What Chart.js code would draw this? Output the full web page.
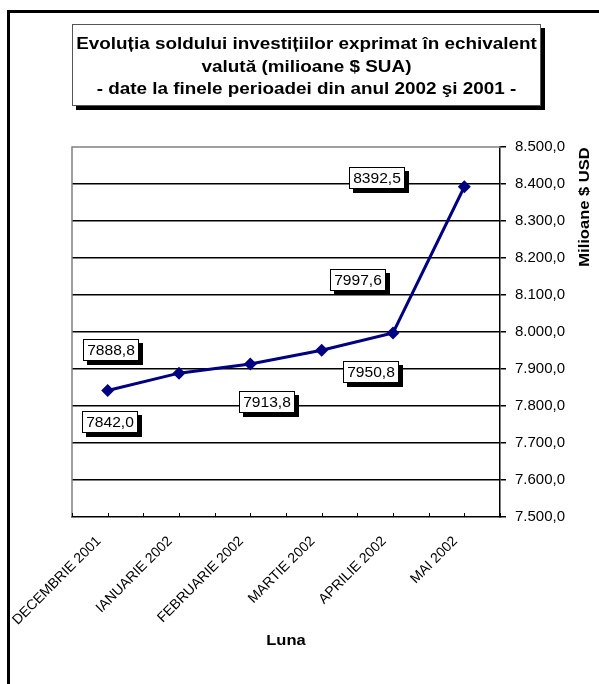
<!DOCTYPE html>
<html><head><meta charset="utf-8">
<script src="https://cdn.jsdelivr.net/npm/chart.js@4/dist/chart.umd.min.js"></script>
<style>html,body{margin:0;padding:0;background:#fff;}</style>
</head><body>
<canvas id="c" width="599" height="684"></canvas>
<script>
const FONT = "'Liberation Sans', Arial, sans-serif";
const categories = ['DECEMBRIE 2001', 'IANUARIE 2002', 'FEBRUARIE 2002', 'MARTIE 2002', 'APRILIE 2002', 'MAI 2002'];
const values = [7842.0, 7888.8, 7913.8, 7950.8, 7997.6, 8392.5];
const yTickValues = [7500, 7600, 7700, 7800, 7900, 8000, 8100, 8200, 8300, 8400, 8500];
const yTickLabels = ['7.500,0', '7.600,0', '7.700,0', '7.800,0', '7.900,0', '8.000,0', '8.100,0', '8.200,0', '8.300,0', '8.400,0', '8.500,0'];
const titleLines = ['Evoluția soldului investițiilor exprimat în echivalent', 'valută (milioane $ SUA)', '- date la finele perioadei din anul 2002 şi 2001 -'];
const xTitle = 'Luna';
const yTitle = 'Milioane $ USD';
// label box placement relative to each point (px)
const labelOffsets = [[2, 32], [-68, -23], [17, 38], [49, 22], [-35, -53], [-87, -9]];

function fmtVal(v) { return v.toFixed(1).replace('.', ','); }

function stretchedText(c, txt, x, y, sx, rot) {
  c.save();
  c.translate(x, y);
  if (rot) c.rotate(rot);
  c.scale(sx, 1);
  c.fillText(txt, 0, 0);
  c.restore();
}

const decor = {
  id: 'decor',
  beforeDraw(chart) {
    const c = chart.ctx;
    c.save();
    c.fillStyle = '#fff';
    c.fillRect(0, 0, chart.width, chart.height);
    // outer frame (left & top)
    c.fillStyle = '#000';
    c.fillRect(7, 10, chart.width - 7, 3);
    c.fillRect(7, 10, 3, chart.height - 10);
    // title box
    const bx = 72, by = 24, bw = 469, bh = 82;
    c.fillRect(bx + 4, by + 4, bw, bh);
    c.fillStyle = '#fff';
    c.fillRect(bx, by, bw, bh);
    c.strokeStyle = '#555';
    c.lineWidth = 1;
    c.strokeRect(bx + 0.5, by + 0.5, bw - 1, bh - 1);
    c.fillStyle = '#000';
    c.font = 'bold 16px ' + FONT;
    c.textAlign = 'center';
    c.textBaseline = 'middle';
    titleLines.forEach((t, i) => stretchedText(c, t, bx + bw / 2, 45 + i * 22.5, 1.18, 0));
    c.restore();
  },
  beforeDatasetsDraw(chart) {
    const c = chart.ctx, a = chart.chartArea;
    c.save();
    c.strokeStyle = '#808080';
    c.lineWidth = 1.5;
    c.beginPath();
    c.moveTo(a.left, a.bottom);
    c.lineTo(a.left, a.top);
    c.lineTo(a.right, a.top);
    c.stroke();
    // x tick marks at category boundaries and centres (inward)
    c.strokeStyle = '#000';
    c.lineWidth = 1;
    const n = categories.length * 2;
    for (let i = 0; i <= n; i++) {
      const x = Math.round(a.left + i * (a.right - a.left) / n) + 0.5;
      c.beginPath();
      c.moveTo(x, a.bottom);
      c.lineTo(x, a.bottom - 4);
      c.stroke();
    }
    c.restore();
  },
  afterDatasetsDraw(chart) {
    const c = chart.ctx, a = chart.chartArea;
    const meta = chart.getDatasetMeta(0);
    c.save();
    c.font = '15px ' + FONT;
    c.textAlign = 'center';
    c.textBaseline = 'middle';
    meta.data.forEach((pt, i) => {
      const txt = fmtVal(values[i]);
      const w = Math.round(c.measureText(txt).width * 1.04) + 8;
      const h = 22;
      const cx = pt.x + labelOffsets[i][0], cy = pt.y + labelOffsets[i][1];
      const x0 = Math.round(cx - w / 2), y0 = Math.round(cy - h / 2);
      c.fillStyle = '#000';
      c.fillRect(x0 + 4, y0 + 4, w, h);
      c.fillStyle = '#fff';
      c.fillRect(x0, y0, w, h);
      c.strokeStyle = '#000';
      c.lineWidth = 1;
      c.strokeRect(x0 + 0.5, y0 + 0.5, w - 1, h - 1);
      c.fillStyle = '#000';
      stretchedText(c, txt, x0 + w / 2, y0 + h / 2 + 1, 1.04, 0);
    });
    // axis titles
    c.font = 'bold 14px ' + FONT;
    stretchedText(c, xTitle, (a.left + a.right) / 2, 641, 1.18, 0);
    stretchedText(c, yTitle, 585, a.top + 60, 1.18, -Math.PI / 2);
    c.restore();
  }
};

new Chart(document.getElementById('c'), {
  type: 'line',
  data: {
    labels: categories,
    datasets: [{
      data: values,
      borderColor: '#000080',
      backgroundColor: '#000080',
      borderWidth: 3,
      pointStyle: 'rectRot',
      pointRadius: 6.5,
      pointBackgroundColor: '#000080',
      pointBorderColor: '#000080',
      pointBorderWidth: 0,
      tension: 0,
      fill: false
    }]
  },
  options: {
    responsive: false,
    animation: false,
    devicePixelRatio: 1,
    layout: { padding: { left: 72, top: 147, right: 0, bottom: 0 } },
    plugins: { legend: { display: false }, title: { display: false }, tooltip: { enabled: false } },
    scales: {
      x: {
        type: 'category',
        offset: true,
        grid: { display: false },
        border: { display: true, color: '#000', width: 1.5 },
        ticks: { minRotation: 45, maxRotation: 45, autoSkip: false, color: '#000', font: { family: FONT, size: 14 }, padding: 8, labelOffset: -9 },
        afterFit: s => { s.height = 167; }
      },
      y: {
        position: 'right',
        min: yTickValues[0],
        max: yTickValues[yTickValues.length - 1],
        afterBuildTicks: s => { s.ticks = yTickValues.map(v => ({ value: v })); },
        ticks: {
          color: '#000', font: { family: FONT, size: 15 }, padding: 9,
          callback: v => yTickLabels[yTickValues.indexOf(v)]
        },
        grid: {
          color: ctx => (ctx.tick && (ctx.tick.value === yTickValues[0] || ctx.tick.value === yTickValues[yTickValues.length - 1])) ? 'rgba(0,0,0,0)' : '#000',
          lineWidth: 1.5, tickLength: 6, tickColor: '#000'
        },
        border: { display: true, color: '#000', width: 1.5 },
        afterFit: s => { s.width = 99; }
      }
    }
  },
  plugins: [decor]
});
</script>
</body></html>
